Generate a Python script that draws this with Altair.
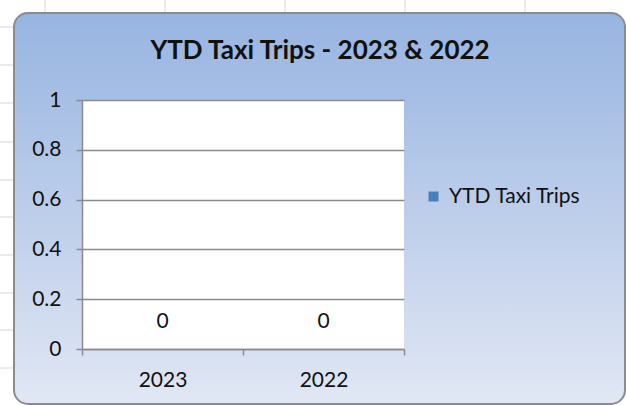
import altair as alt
import pandas as pd

# ---- data ----
years = ["2023", "2022"]
trips = [0, 0]
series = ["YTD Taxi Trips", "YTD Taxi Trips"]
y_ticks = [0, 0.2, 0.4, 0.6, 0.8, 1]
title_text = "YTD Taxi Trips - 2023 & 2022"

df = pd.DataFrame({"Year": years, "Trips": trips, "Series": series})

# ---- layout ----
W, H = 322, 249
PAD_L, PAD_T = 82, 100
FONT = "Lato"
TXT = "#111111"
GRID = "#8A8A8A"
FS = 21

one = alt.Data(values=[{"k": 1}])

layers = []
# spreadsheet cell lines behind the chart (decoration)
for cx in [45, 165, 285, 405, 525]:
    layers.append(
        alt.Chart(one).mark_rule(color="#D6D6D6", strokeWidth=1).encode(
            x=alt.value(cx - PAD_L), y=alt.value(-PAD_T), y2=alt.value(405 - PAD_T)
        )
    )
for cy in [27, 65, 103, 142, 180, 217, 255, 293, 330, 368]:
    layers.append(
        alt.Chart(one).mark_rule(color="#D6D6D6", strokeWidth=1).encode(
            y=alt.value(cy - PAD_T), x=alt.value(-PAD_L), x2=alt.value(626 - PAD_L)
        )
    )

# chart area with gradient
bg = alt.Chart(one).mark_rect(
    cornerRadius=14,
    stroke="#8C8C8C",
    strokeWidth=2,
    color=alt.Gradient(
        gradient="linear",
        stops=[
            alt.GradientStop(color="#97B4E1", offset=0),
            alt.GradientStop(color="#E1E7F4", offset=1),
        ],
        x1=0, x2=0, y1=0, y2=1,
    ),
).encode(
    x=alt.value(14 - PAD_L), x2=alt.value(625 - PAD_L),
    y=alt.value(13 - PAD_T), y2=alt.value(404 - PAD_T),
)
layers.append(bg)

# white plot area
plot_bg = alt.Chart(one).mark_rect(color="white").encode(
    x=alt.value(0), x2=alt.value(W), y=alt.value(0), y2=alt.value(H)
)
layers.append(plot_bg)

x_axis = alt.Axis(
    title=None, labelAngle=0, tickBand="extent", grid=False,
    domainColor=GRID, domainWidth=1.5, tickColor=GRID, tickWidth=1.5, tickSize=6,
    labelFont=FONT, labelFontSize=FS, labelColor=TXT, labelPadding=14, zindex=1,
)
y_axis = alt.Axis(
    title=None, values=y_ticks, format="~g", grid=True,
    gridColor=GRID, gridWidth=1.5, domainColor=GRID, domainWidth=1.5,
    tickColor=GRID, tickWidth=1.5, tickSize=6,
    labelFont=FONT, labelFontSize=FS, labelColor=TXT, labelPadding=15, zindex=1,
)
x_enc = alt.X("Year:N", sort=years, scale=alt.Scale(paddingInner=0, paddingOuter=0), axis=x_axis)
y_enc = alt.Y("Trips:Q", scale=alt.Scale(domain=[0, 1]), axis=y_axis)

bars = alt.Chart(df).mark_bar(size=60).encode(
    x=x_enc,
    y=y_enc,
    color=alt.Color(
        "Series:N",
        scale=alt.Scale(range=["#4A7EBB"]),
        legend=alt.Legend(
            title=None, orient="none", legendX=341, legendY=86, padding=0,
            symbolType="square", symbolSize=100, symbolStrokeWidth=0,
            labelFont=FONT, labelFontSize=FS, labelColor=TXT, labelOffset=5,
        ),
    ),
)
layers.append(bars)

labels = alt.Chart(df).mark_text(
    dy=-27, fontSize=FS, font=FONT, color=TXT, baseline="middle", align="center"
).encode(x=x_enc, y=y_enc, text=alt.Text("Trips:Q"))
layers.append(labels)

title = alt.Chart(one).mark_text(
    font=FONT, fontSize=26, fontWeight="bold", color=TXT,
    align="center", baseline="alphabetic",
).encode(x=alt.value(320 - PAD_L), y=alt.value(59 - PAD_T), text=alt.value(title_text))
layers.append(title)

chart = alt.layer(*layers).properties(
    width=W, height=H,
    autosize=alt.AutoSizeParams(type="none"),
    padding={"left": PAD_L, "top": PAD_T, "right": 626 - PAD_L - W, "bottom": 405 - PAD_T - H},
    background="white",
).configure_view(strokeWidth=0)

chart.save("out.html", embed_options={"renderer": "svg", "actions": False})
